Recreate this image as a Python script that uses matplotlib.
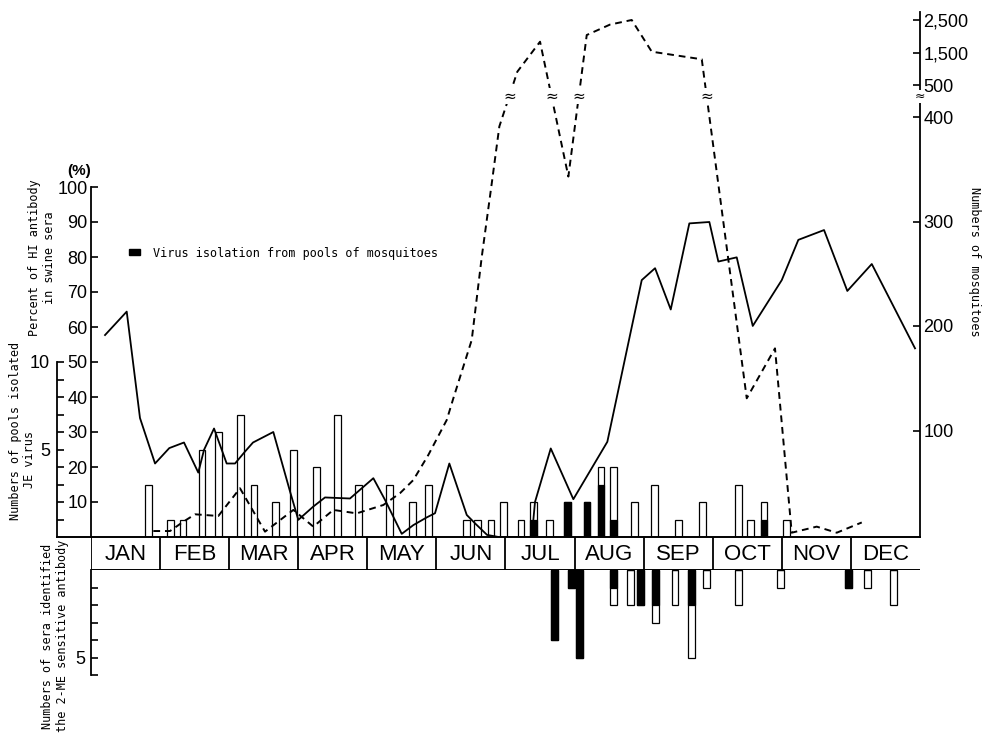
import numpy as np
import matplotlib.pyplot as plt
from matplotlib.patches import Patch
from matplotlib.lines import Line2D

plt.rcParams['font.family'] = ['Liberation Sans', 'DejaVu Sans']
MONO = 'DejaVu Sans Mono'

# ── data (x = position in months from 1 Jan) ────────────────────────────────
months = ["JAN", "FEB", "MAR", "APR", "MAY", "JUN",
          "JUL", "AUG", "SEP", "OCT", "NOV", "DEC"]

# percent of HI antibody in swine sera (solid line)
hi_x = [0.203, 0.517, 0.709, 0.927, 1.133, 1.346, 1.553, 1.636, 1.781, 1.964,
        2.085, 2.229, 2.345, 2.639, 2.881, 3.001, 3.218, 3.387, 3.749, 4.087,
        4.256, 4.376, 4.498, 4.666, 4.860, 4.980, 5.187, 5.439, 5.559, 5.733,
        5.900, 6.380, 6.427, 6.655, 6.982, 7.474, 7.972, 8.165, 8.392, 8.661,
        8.951, 9.081, 9.347, 9.579, 9.999, 10.239, 10.611, 10.948, 11.302, 11.928]
hi_pct = [57.7, 64.4, 34.0, 21.0, 25.4, 27.0, 18.4, 24.9, 31.0, 21.0,
          21.0, 24.4, 27.0, 30.0, 13.0, 4.9, 8.7, 11.3, 11.0, 16.8,
          10.6, 5.8, 0.9, 3.4, 5.6, 6.8, 21.0, 6.3, 3.9, 0.6,
          0.0, 0.0, 10.0, 25.3, 10.8, 27.2, 73.4, 76.8, 65.0, 89.6,
          90.0, 78.7, 79.9, 60.3, 73.4, 84.9, 87.7, 70.3, 78.0, 53.9]

# numbers of mosquitoes (dashed line)
mosq_x = [0.902, 1.144, 1.336, 1.506, 1.843, 2.157, 2.519, 2.929, 3.218, 3.508,
          3.846, 4.231, 4.473, 4.666, 4.883, 5.149, 5.245, 5.511, 5.656, 5.801,
          5.911, 6.171, 6.500, 6.910, 7.176, 7.513, 7.827, 8.117, 8.841, 9.492,
          9.901, 10.143, 10.505, 10.795, 11.157]
mosq_n = [3.8, 3.8, 12.7, 19.8, 18.2, 44.7, 3.2, 24, 8, 24,
          20.7, 28.7, 40, 52.6, 76.6, 110, 130.8, 186.6, 266, 336.5,
          391, 909, 1832, 343, 2038, 2359, 2500, 1525, 1291, 130.8,
          178.6, 2.2, 8, 2.2, 12]

# pools of mosquitoes tested / with virus isolated (upper bars)
pool_x = [0.835, 1.148, 1.332, 1.607, 1.843, 2.168, 2.360, 2.675, 2.934, 3.267,
          3.568, 3.877, 4.324, 4.657, 4.886, 5.430, 5.598, 5.790, 5.968, 6.225,
          6.409, 6.633, 6.898, 7.180, 7.383, 7.567, 7.861, 8.160, 8.500, 8.849,
          9.370, 9.544, 9.742, 10.065]
pool_total = [3, 1, 1, 5, 6, 7, 3, 2, 5, 4,
              7, 3, 3, 2, 3, 1, 1, 1, 2, 1,
              2, 1, 2, 2, 4, 4, 2, 3, 1, 2,
              3, 1, 2, 1]
pool_virus = [0, 0, 0, 0, 0, 0, 0, 0, 0, 0,
              0, 0, 0, 0, 0, 0, 0, 0, 0, 0,
              1, 0, 2, 2, 3, 1, 0, 0, 0, 0,
              0, 0, 1, 0]

# sera with 2-ME sensitive antibody (lower bars)
sera_x = [6.705, 6.953, 7.067, 7.567, 7.813, 7.952, 8.169, 8.454, 8.686, 8.907,
          9.370, 9.978, 10.969, 11.241, 11.614]
sera_total = [4, 1, 5, 2, 2, 2, 3, 2, 5, 1, 2, 1, 1, 1, 2]
sera_black = [4, 1, 5, 1, 0, 2, 2, 0, 2, 0, 0, 0, 1, 0, 0]

pct_ticks = list(range(10, 101, 10))
mosq_ticks = [100, 200, 300, 400, 500, 1500, 2500]
mosq_labels = ["100", "200", "300", "400", "500", "1,500", "2,500"]

# ── broken scale for the mosquito axis ───────────────────────────────────────
def mq_fwd(n):
    n = np.asarray(n, dtype=float)
    return np.where(n <= 400, n * 1.045,
                    np.where(n <= 500, 418 + (n - 400) * 0.32,
                             450 + (n - 500) * 0.0325))

def mq_inv(h):
    h = np.asarray(h, dtype=float)
    return np.where(h <= 418, h / 1.045,
                    np.where(h <= 450, 400 + (h - 418) / 0.32,
                             500 + (h - 450) / 0.0325))

# ── figure / axes layout ─────────────────────────────────────────────────────
W, H = 987, 735
def fx(x): return x / W
def fy(y): return 1 - y / H

fig = plt.figure(figsize=(W / 100, H / 100), dpi=100)
L, R = 91, 920
top_y, base_y, band_y, low_y = 5, 537, 570, 705

ax_p = fig.add_axes([fx(L), fy(base_y), (R - L) / W, (base_y - top_y) / H])
ax = ax_p.twinx()
ax_m = ax_p.twinx()
ax_b = fig.add_axes([fx(L), fy(band_y), (R - L) / W, (band_y - base_y) / H])
ax_s = fig.add_axes([fx(L), fy(low_y), (R - L) / W, (low_y - band_y) / H])

for a in (ax_p, ax, ax_m, ax_b, ax_s):
    a.set_xlim(0, 12)
    a.set_xticks([])
    for s in a.spines.values():
        s.set_visible(False)
    a.patch.set_visible(False)
ax_b.set_yticks([])

pix_h = base_y - top_y

# pools axis (outer left)
pool_off = -34 / (R - L)
ax_p.set_ylim(0, pix_h / 17.5)
ax_p.spines['left'].set_visible(True)
ax_p.spines['left'].set_position(('axes', pool_off))
ax_p.spines['left'].set_bounds(0, 10)
ax_p.spines['left'].set_linewidth(1.3)
ax_p.set_yticks([5, 10])
ax_p.set_yticks(range(1, 10), minor=True)
ax_p.tick_params(axis='y', which='both', direction='in', length=5, width=1.2,
                 labelsize=13, pad=5)

# percent axis (inner left)
ax.set_ylim(0, pix_h / 3.5)
ax.yaxis.tick_left()
ax.spines['left'].set_visible(True)
ax.spines['left'].set_bounds(0, 100)
ax.spines['left'].set_linewidth(1.3)
ax.set_yticks(pct_ticks)
ax.tick_params(axis='y', direction='in', length=5, width=1.2,
               labelsize=13, pad=2.5)

# mosquito axis (right, broken)
ax_m.set_yscale('function', functions=(mq_fwd, mq_inv))
ax_m.set_ylim(float(mq_inv(-2)), float(mq_inv(pix_h - 2)))
ax_m.spines['right'].set_visible(True)
ax_m.spines['right'].set_bounds(float(mq_inv(-2)), 2750)
ax_m.spines['right'].set_linewidth(1.3)
ax_m.set_yticks(mosq_ticks)
ax_m.set_yticklabels(mosq_labels)
ax_m.yaxis.set_minor_locator(plt.NullLocator())
ax_m.tick_params(axis='y', direction='in', length=5, width=1.2,
                 labelsize=13, pad=2.5)

# ── upper bars: pools ────────────────────────────────────────────────────────
bw = 0.1
ax_p.bar(pool_x, pool_total, width=bw, color='white', edgecolor='black',
         linewidth=0.9, zorder=2)
ax_p.bar(pool_x, pool_virus, width=bw, color='black', edgecolor='black',
         linewidth=0.9, zorder=3)

# ── lines ────────────────────────────────────────────────────────────────────
ax.plot(hi_x, hi_pct, color='black', lw=1.3, zorder=4)
ax_m.plot(mosq_x, mosq_n, color='black', lw=1.4, ls=(0, (3.5, 2.5)), zorder=4)

# break marks where the dashed line crosses the scale break
brk = 465
hx = np.array(mosq_x)
hh = mq_fwd(mosq_n)
hb = float(mq_fwd(brk))
for i in range(len(hx) - 1):
    if (hh[i] - hb) * (hh[i + 1] - hb) < 0:
        t = (hb - hh[i]) / (hh[i + 1] - hh[i])
        xc = hx[i] + t * (hx[i + 1] - hx[i])
        ax_m.text(xc, brk, '≈', ha='center', va='center', fontsize=11,
                  family='DejaVu Sans', zorder=6,
                  bbox=dict(fc='white', ec='none', pad=0.2))
ax_m.text(1.0, brk, '≈', transform=ax_m.get_yaxis_transform(), ha='center',
          va='center', fontsize=9, family='DejaVu Sans', zorder=6,
          bbox=dict(fc='white', ec='none', pad=0.1))

# baseline from pools spine to right edge
ax_p.add_line(Line2D([pool_off, 1], [0, 0], transform=ax_p.transAxes,
                     color='black', lw=1.4, clip_on=False))

# ── month band ───────────────────────────────────────────────────────────────
ax_b.set_ylim(0, 1)
ax_b.axhline(0, color='black', lw=1.4)
for i in range(12):
    ax_b.axvline(i, color='black', lw=1.3)
    ax_b.text(i + 0.5, 0.47, months[i], ha='center', va='center', fontsize=16)

# ── lower bars: sera ─────────────────────────────────────────────────────────
ax_s.set_ylim((low_y - band_y) / 17.5, 0)
ax_s.spines['left'].set_visible(True)
ax_s.spines['left'].set_bounds(0, 6)
ax_s.spines['left'].set_linewidth(1.3)
ax_s.set_yticks([5])
ax_s.set_yticks([1, 2, 3, 4, 6], minor=True)
ax_s.tick_params(axis='y', which='both', direction='in', length=5, width=1.2,
                 labelsize=13, pad=4)
ax_s.bar(sera_x, sera_total, width=bw, color='white', edgecolor='black',
         linewidth=0.9)
ax_s.bar(sera_x, sera_black, width=bw, color='black', edgecolor='black',
         linewidth=0.9)

# ── legend ───────────────────────────────────────────────────────────────────
ax.legend(handles=[Patch(facecolor='black', edgecolor='black')],
          labels=['Virus isolation from pools of mosquitoes'],
          loc='center left', bbox_to_anchor=((129 - L) / (R - L), (base_y - 253) / pix_h),
          frameon=False, prop={'family': MONO, 'size': 8.5},
          handlelength=0.95, handleheight=0.35, handletextpad=1.1,
          borderpad=0, borderaxespad=0)

# ── axis titles ──────────────────────────────────────────────────────────────
fig.text(fx(79), fy(171), '(%)', ha='center', va='center', fontsize=11,
         weight='bold')
fig.text(fx(42), fy(258), 'Percent of HI antibody\nin swine sera', rotation=90,
         ha='center', va='center', multialignment='center', family=MONO,
         fontsize=8.5, linespacing=1.15)
fig.text(fx(16), fy(431), 'Numbers of pools isolated', rotation=90,
         ha='center', va='center', family=MONO, fontsize=8.5)
fig.text(fx(30), fy(460), 'JE virus', rotation=90,
         ha='center', va='center', family=MONO, fontsize=8.5)
fig.text(fx(55), fy(636), 'Numbers of sera identified\nthe 2-ME sensitive antibody',
         rotation=90, ha='center', va='center', multialignment='center',
         family=MONO, fontsize=8.5, linespacing=1.15)
fig.text(fx(975), fy(262), 'Numbers of mosquitoes', rotation=270,
         ha='center', va='center', family=MONO, fontsize=8.5)

fig.savefig('out.png', dpi=100)
